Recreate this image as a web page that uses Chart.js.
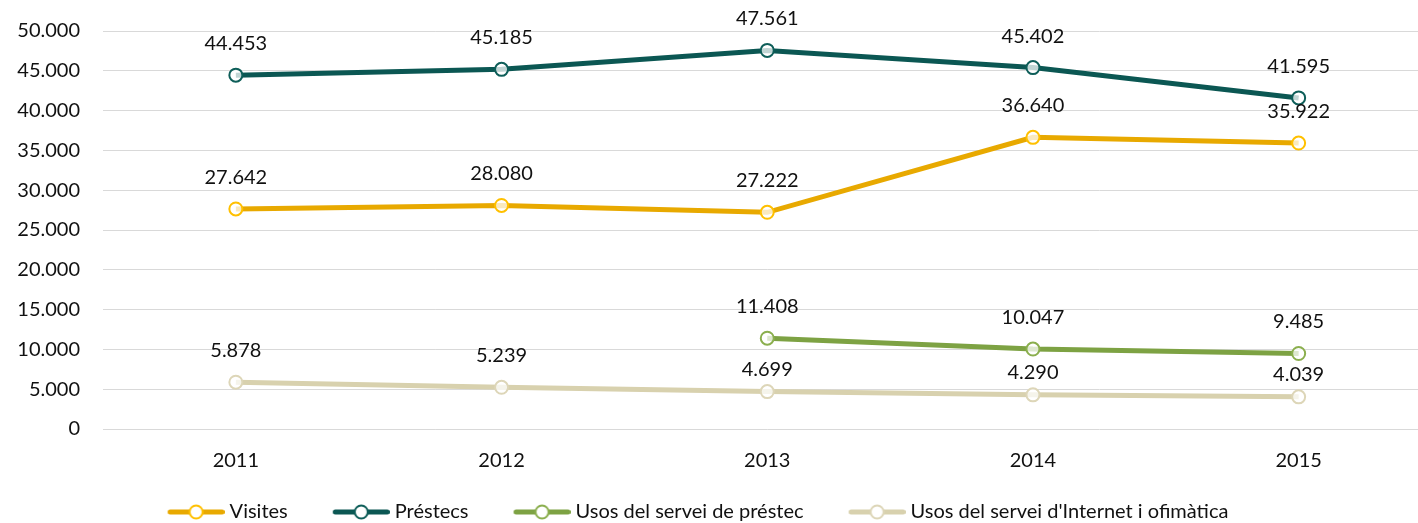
<!DOCTYPE html>
<html>
<head>
<meta charset="utf-8">
<script src="https://cdn.jsdelivr.net/npm/chart.js@4/dist/chart.umd.min.js"></script>
<style>
  html, body { margin: 0; padding: 0; background: #fff; overflow: hidden; }
  #wrap { width: 1440px; height: 532px; }
</style>
</head>
<body>
<div id="wrap"><canvas id="c" width="1440" height="532"></canvas></div>
<script>
const categories = ['2011', '2012', '2013', '2014', '2015'];
const seriesNames = ['Visites', 'Préstecs', 'Usos del servei de préstec', "Usos del servei d'Internet i ofimàtica"];
const visites = [27642, 28080, 27222, 36640, 35922];
const prestecs = [44453, 45185, 47561, 45402, 41595];
const usosPrestec = [null, null, 11408, 10047, 9485];
const usosInternet = [5878, 5239, 4699, 4290, 4039];
const yTicks = [0, 5000, 10000, 15000, 20000, 25000, 30000, 35000, 40000, 45000, 50000];

const lineColors = ['#E8A900', '#0B5753', '#7DA243', '#D8D1AE'];
const markerColors = ['#FFC000', '#0E5E59', '#8BAF4E', '#DDD6B8'];
const FONT = "Lato, 'Open Sans', sans-serif";

function fmt(v) { return String(v).replace(/\B(?=(\d{3})+(?!\d))/g, '.'); }

function legendImage(i) {
  const cv = document.createElement('canvas');
  cv.width = 78; cv.height = 20;
  const g = cv.getContext('2d');
  g.strokeStyle = lineColors[i];
  g.lineWidth = 5;
  g.lineCap = 'round';
  g.beginPath(); g.moveTo(23.5, 10); g.lineTo(75.5, 10); g.stroke();
  g.beginPath(); g.arc(49.5, 10, 6.5, 0, Math.PI * 2);
  g.fillStyle = '#fff'; g.fill();
  g.lineWidth = 2; g.strokeStyle = markerColors[i]; g.stroke();
  return cv;
}
const legendImgs = [0, 1, 2, 3].map(legendImage);

// Labels sit above their point; the last series' labels are nudged closer
// where the series above it also has a label (as in the original).
const dataLabels = {
  id: 'dataLabels',
  afterDatasetsDraw(chart) {
    const ctx = chart.ctx;
    ctx.save();
    ctx.font = '20px ' + FONT;
    ctx.fillStyle = '#111';
    ctx.textAlign = 'center';
    ctx.textBaseline = 'alphabetic';
    const dsets = chart.data.datasets;
    dsets.forEach((ds, di) => {
      const meta = chart.getDatasetMeta(di);
      meta.data.forEach((pt, i) => {
        const v = ds.data[i];
        if (v === null || v === undefined) return;
        let off = 25;
        if (di === 3 && dsets[2].data[i] !== null) off = 16;
        ctx.fillText(fmt(v), pt.x, pt.y - off);
      });
    });
    ctx.restore();
  }
};

const legendShift = {
  id: 'legendShift',
  afterLayout(chart) {
    if (chart.legend) { chart.legend.left -= 30; chart.legend.right -= 30; }
  }
};

const allSeries = [visites, prestecs, usosPrestec, usosInternet];

new Chart(document.getElementById('c'), {
  type: 'line',
  data: {
    labels: categories,
    datasets: allSeries.map((d, i) => ({
      label: seriesNames[i],
      data: d,
      borderColor: lineColors[i],
      backgroundColor: lineColors[i],
      borderWidth: 5,
      tension: 0,
      pointRadius: 6.5,
      pointHoverRadius: 6.5,
      pointBorderWidth: 2,
      pointBorderColor: markerColors[i],
      pointBackgroundColor: 'rgba(255,255,255,0.75)',
      fill: false
    }))
  },
  options: {
    responsive: false,
    animation: false,
    devicePixelRatio: 1,
    layout: { padding: { top: 31, left: 0, right: 0, bottom: 0 } },
    scales: {
      x: {
        offset: true,
        grid: { display: false, drawTicks: false, offset: true },
        border: { display: false },
        ticks: { font: { family: FONT, size: 20 }, color: '#111', padding: 20 },
        afterFit(scale) { scale.height = 44; }
      },
      y: {
        min: 0, max: 50000,
        grid: { color: '#D9D9D9', lineWidth: 1, drawTicks: false },
        border: { display: false },
        ticks: {
          stepSize: 5000,
          font: { family: FONT, size: 20 },
          color: '#111',
          padding: 23,
          callback: (v) => fmt(v)
        },
        afterBuildTicks(scale) { scale.ticks = yTicks.map(v => ({ value: v })); },
        afterFit(scale) { scale.width = 103; scale.paddingTop = 0; scale.paddingBottom = 0; }
      }
    },
    plugins: {
      tooltip: { enabled: false },
      legend: {
        position: 'bottom',
        labels: {
          usePointStyle: true,
          pointStyleWidth: 68,
          padding: 29,
          color: '#111',
          font: { family: FONT, size: 20 },
          generateLabels(chart) {
            const items = Chart.defaults.plugins.legend.labels.generateLabels(chart);
            items.forEach((it, i) => { it.pointStyle = legendImgs[i]; });
            return items;
          }
        }
      }
    }
  },
  plugins: [dataLabels, legendShift]
});
</script>
</body>
</html>
